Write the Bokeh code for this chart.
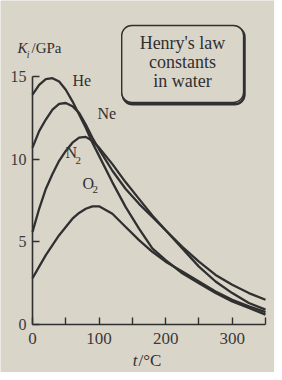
from bokeh.plotting import figure
from bokeh.models import FixedTicker, Range1d
from bokeh.core.properties import value
from bokeh.embed import file_html
from bokeh.resources import INLINE

# temperature (°C)
t = [0, 10, 20, 30, 40, 50, 60, 70, 80, 90, 100, 120, 140, 160, 180, 200, 225, 250, 275, 300, 325, 350]
# Henry's law constants K (GPa)
he = [13.9, 14.5, 14.85, 14.9, 14.7, 14.2, 13.5, 12.7, 11.9, 11.0, 10.2, 8.6, 7.1, 5.8, 4.6, 3.9, 3.1, 2.5, 1.9, 1.4, 1.0, 0.6]
ne = [10.7, 11.7, 12.4, 13.0, 13.35, 13.4, 13.2, 12.8, 12.1, 11.3, 10.6, 9.3, 8.2, 7.3, 6.5, 5.7, 4.6, 3.5, 2.6, 1.9, 1.3, 0.9]
n2 = [5.6, 7.0, 8.2, 9.1, 9.9, 10.5, 11.0, 11.3, 11.35, 11.1, 10.7, 9.7, 8.6, 7.6, 6.6, 5.7, 4.7, 3.8, 3.0, 2.4, 1.9, 1.5]
o2 = [2.8, 3.5, 4.2, 4.8, 5.4, 5.9, 6.4, 6.75, 7.0, 7.15, 7.15, 6.7, 5.9, 5.1, 4.4, 3.8, 3.2, 2.6, 2.0, 1.5, 1.1, 0.75]

x_major = [0, 100, 200, 300]
x_minor = [50, 150, 250, 350]
y_major = [0, 5, 10, 15]

BG = "#dad5c9"
INK = "#303030"
FONT = "Liberation Serif"

p = figure(width=274, height=372, output_backend="svg", toolbar_location=None,
           x_range=Range1d(-48.07, 363.5), y_range=Range1d(-2.904, 19.60),
           min_border=0)
p.background_fill_color = BG
p.border_fill_color = BG
p.outline_line_color = None
p.grid.visible = False

for ax in (p.xaxis[0], p.yaxis[0]):
    ax.fixed_location = 0
    ax.axis_line_color = INK
    ax.axis_line_width = 1.6
    ax.major_tick_line_color = INK
    ax.minor_tick_line_color = INK
    ax.major_tick_line_width = 1.4
    ax.minor_tick_line_width = 1.4
    ax.major_tick_in = 7
    ax.major_tick_out = 0
    ax.major_label_text_font = FONT
    ax.major_label_text_color = "#3a3a3a"

p.xaxis.ticker = FixedTicker(ticks=x_major, minor_ticks=x_minor)
p.xaxis.minor_tick_in = 7
p.xaxis.minor_tick_out = 0
p.xaxis.bounds = (0, 350)
p.xaxis.major_label_standoff = 9
p.xaxis.major_label_text_font_size = "17px"

p.yaxis.ticker = FixedTicker(ticks=y_major)
p.yaxis.minor_tick_line_color = None
p.yaxis.bounds = (0, 15)
p.yaxis.major_label_standoff = 6
p.yaxis.major_label_text_font_size = "16px"

for ys in (he, ne, n2, o2):
    p.line(t, ys, line_color=INK, line_width=2.3, line_join="round")

def txt(x, y, s, size="16px", style="normal", align="left"):
    p.text(x=[x], y=[y], text=[s], text_font=value(FONT), text_font_size=size,
           text_font_style=style, text_color=INK, text_baseline="middle", text_align=align)

# curve labels
txt(60, 14.76, "He")
txt(97.6, 12.76, "Ne")
txt(49.6, 10.4, "N")
txt(64.6, 9.92, "2", size="11px")
txt(75, 8.53, "O")
txt(90, 8.17, "2", size="11px")

# title box
p.quad(left=[135.5], right=[318.5], top=[17.98], bottom=[13.32], fill_color=None,
       line_color=INK, line_width=2.4, border_radius=10)
p.quad(left=[134], right=[317], top=[18.09], bottom=[13.43], fill_color=BG,
       line_color=INK, line_width=1.4, border_radius=10)
txt(225.3, 17.0, "Henry's law", size="18px", align="center")
txt(225.3, 15.85, "constants", size="18px", align="center")
txt(225.3, 14.7, "in water", size="18px", align="center")

# axis titles
txt(-22.5, 16.7, "K", size="15px", style="italic")
txt(-8.5, 16.35, "i", size="10px", style="italic")
txt(-1.5, 16.7, "/GPa", size="15px")
txt(157.7, -2.2, "t", size="17px", style="italic", align="right")
txt(159.2, -2.2, "/°C", size="17px")

open("out.html", "w").write(file_html(p, INLINE))
